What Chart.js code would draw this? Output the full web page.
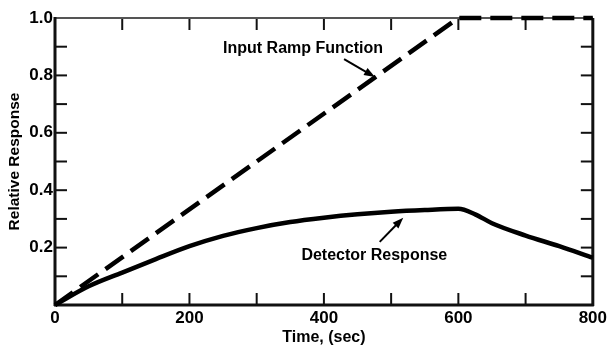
<!DOCTYPE html>
<html>
<head>
<meta charset="utf-8">
<script src="https://cdn.jsdelivr.net/npm/chart.js@4.4.1/dist/chart.umd.min.js"></script>
<style>
html, body { margin: 0; padding: 0; background: #fff; }
#wrap { width: 610px; height: 347px; }
</style>
</head>
<body>
<div id="wrap"><canvas id="graphCanvas"></canvas></div>
<script>
// values
var time_sec = [0, 50, 100, 150, 200, 250, 300, 350, 400, 450, 500, 550, 600, 625, 650, 700, 750, 800];
var detector_response = [0, 0.065, 0.113, 0.16, 0.205, 0.241, 0.268, 0.289, 0.304, 0.316, 0.325, 0.331, 0.335, 0.316, 0.285, 0.242, 0.205, 0.165];
var ramp_time = [0, 600, 800];
var ramp_response = [0, 1.0, 1.0];
var x_tick_labels = ['0', '200', '400', '600', '800'];
var y_tick_labels = ['0.2', '0.4', '0.6', '0.8', '1.0'];

// callouts, in data units
var note_text = ['Input Ramp Function', 'Detector Response'];
var note_x = [369, 475];
var note_y = [0.895, 0.171];
var arrow_x1 = [430, 483];
var arrow_y1 = [0.857, 0.22];
var arrow_x2 = [476, 518];
var arrow_y2 = [0.794, 0.304];

Chart.defaults.font.family = '"Liberation Sans", Arial, sans-serif';
Chart.defaults.font.weight = 'bold';
Chart.defaults.color = '#000';

function toPoints(xs, ys) {
    var pts = [];
    for (var i = 0; i < xs.length; i++) {
        pts.push({x: xs[i], y: ys[i]});
    }
    return pts;
}

function seg(ctx, x1, y1, x2, y2) {
    ctx.beginPath();
    ctx.moveTo(x1, y1);
    ctx.lineTo(x2, y2);
    ctx.stroke();
}

var paperPlugin = {
    id: 'paper',
    beforeDatasetsDraw: function(chart) {
        var ctx = chart.ctx;
        var a = chart.chartArea;
        var xs = chart.scales.x, ys = chart.scales.y;
        ctx.save();
        ctx.strokeStyle = '#111';
        ctx.lineWidth = 2;
        // ticks point inward on all four sides
        xs.ticks.forEach(function(t) {
            var px = xs.getPixelForValue(t.value);
            if (px <= a.left + 2 || px >= a.right - 2) return;
            seg(ctx, px, a.bottom, px, a.bottom - 12);
            seg(ctx, px, a.top, px, a.top + 12);
        });
        ys.ticks.forEach(function(t) {
            var py = ys.getPixelForValue(t.value);
            if (py <= a.top + 2 || py >= a.bottom - 2) return;
            seg(ctx, a.left, py, a.left + 12, py);
            seg(ctx, a.right, py, a.right - 12, py);
        });
        // frame
        ctx.strokeStyle = '#555';
        ctx.lineWidth = 2;
        seg(ctx, a.left, a.top, a.right, a.top);
        ctx.strokeStyle = '#111';
        ctx.lineWidth = 3;
        seg(ctx, a.left, a.top - 1, a.left, a.bottom + 1);
        seg(ctx, a.left - 1, a.bottom, a.right + 1, a.bottom);
        seg(ctx, a.right, a.top, a.right, a.bottom + 1);
        ctx.restore();
    },
    afterDatasetsDraw: function(chart) {
        var ctx = chart.ctx;
        var xs = chart.scales.x, ys = chart.scales.y;
        ctx.save();
        ctx.fillStyle = '#000';
        ctx.strokeStyle = '#000';
        ctx.font = 'bold 16px "Liberation Sans", Arial, sans-serif';
        ctx.textAlign = 'center';
        ctx.textBaseline = 'middle';
        for (var i = 0; i < note_text.length; i++) {
            ctx.fillText(note_text[i], xs.getPixelForValue(note_x[i]), ys.getPixelForValue(note_y[i]));

            var x1 = xs.getPixelForValue(arrow_x1[i]), y1 = ys.getPixelForValue(arrow_y1[i]);
            var x2 = xs.getPixelForValue(arrow_x2[i]), y2 = ys.getPixelForValue(arrow_y2[i]);
            var ang = Math.atan2(y2 - y1, x2 - x1);
            ctx.lineWidth = 2;
            seg(ctx, x1, y1, x2 - 6 * Math.cos(ang), y2 - 6 * Math.sin(ang));
            ctx.beginPath();
            ctx.moveTo(x2, y2);
            ctx.lineTo(x2 - 11 * Math.cos(ang) + 4 * Math.sin(ang), y2 - 11 * Math.sin(ang) - 4 * Math.cos(ang));
            ctx.lineTo(x2 - 11 * Math.cos(ang) - 4 * Math.sin(ang), y2 - 11 * Math.sin(ang) + 4 * Math.cos(ang));
            ctx.closePath();
            ctx.fill();
        }
        ctx.restore();
    }
};

var chartData = {
    datasets: [{
            label: 'Input Ramp Function',
            data: toPoints(ramp_time, ramp_response),
            borderColor: '#000',
            borderWidth: 4.5,
            borderDash: [22, 9],
            pointRadius: 0,
            tension: 0,
            clip: false
        },
        {
            label: 'Detector Response',
            data: toPoints(time_sec, detector_response),
            borderColor: '#000',
            borderWidth: 4.5,
            pointRadius: 0,
            cubicInterpolationMode: 'monotone',
            clip: false
        }
    ]
};

var chart = new Chart(document.getElementById('graphCanvas'), {
    type: 'line',
    data: chartData,
    plugins: [paperPlugin],
    options: {
        responsive: true,
        maintainAspectRatio: false,
        animation: false,
        devicePixelRatio: 1,
        layout: {
            padding: {top: 18, right: 15, bottom: 0, left: 0}
        },
        plugins: {
            legend: {display: false},
            tooltip: {enabled: false}
        },
        scales: {
            x: {
                type: 'linear',
                min: 0,
                max: 800,
                grid: {display: false, drawTicks: false},
                border: {display: false},
                ticks: {
                    stepSize: 100,
                    autoSkip: false,
                    maxRotation: 0,
                    padding: 3,
                    font: {size: 17},
                    callback: function(value) {
                        var s = String(value);
                        return x_tick_labels.indexOf(s) >= 0 ? s : '';
                    }
                },
                title: {
                    display: true,
                    text: 'Time, (sec)',
                    font: {size: 16},
                    padding: {top: 0, bottom: 0}
                },
                afterFit: function(scale) {
                    scale.height = 42;
                }
            },
            y: {
                min: 0,
                max: 1.0,
                grid: {display: false, drawTicks: false},
                border: {display: false},
                ticks: {
                    stepSize: 0.1,
                    autoSkip: false,
                    padding: 2,
                    font: {size: 17},
                    callback: function(value) {
                        var s = value.toFixed(1);
                        return y_tick_labels.indexOf(s) >= 0 ? s : '';
                    }
                },
                title: {
                    display: true,
                    text: 'Relative Response',
                    font: {size: 15.5},
                    padding: {top: 5, bottom: 0}
                },
                afterFit: function(scale) {
                    scale.width = 55;
                }
            }
        }
    }
});
</script>
</body>
</html>
